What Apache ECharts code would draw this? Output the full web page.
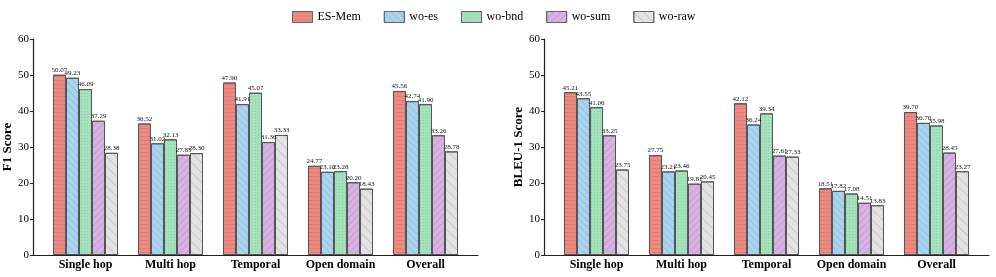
<!DOCTYPE html>
<html><head><meta charset="utf-8">
<script src="https://cdn.jsdelivr.net/npm/echarts@6/dist/echarts.min.js"></script>
<style>html,body{margin:0;padding:0;background:#fff}#c{width:996px;height:277px}</style>
</head><body><div id="c"></div>
<script>
const categories = ['Single hop', 'Multi hop', 'Temporal', 'Open domain', 'Overall'];
const seriesNames = ['ES-Mem', 'wo-es', 'wo-bnd', 'wo-sum', 'wo-raw'];
const yTicks = [0, 10, 20, 30, 40, 50, 60];
// F1 Score
const f1_esmem = [50.07, 36.52, 47.90, 24.77, 45.56];
const f1_woes  = [49.23, 31.02, 41.91, 23.10, 42.74];
const f1_wobnd = [46.09, 32.13, 45.07, 23.28, 41.90];
const f1_wosum = [37.29, 27.85, 31.36, 20.20, 33.26];
const f1_woraw = [28.38, 28.30, 33.33, 18.43, 28.78];
// BLEU-1 Score
const bl_esmem = [45.21, 27.75, 42.12, 18.51, 39.70];
const bl_woes  = [43.55, 23.21, 36.24, 17.82, 36.70];
const bl_wobnd = [41.06, 23.46, 39.34, 17.08, 35.98];
const bl_wosum = [33.25, 19.81, 27.61, 14.51, 28.45];
const bl_woraw = [23.75, 20.45, 27.33, 13.83, 23.27];

const FONT = '"Liberation Serif", "DejaVu Serif", serif';
const colors = ['#ec8a81', '#aad3f0', '#a3e2bb', '#d6b3e3', '#e3e3e3'];
const decals = [
  {symbol: 'rect', dashArrayX: [1, 0], dashArrayY: [1, 3], color: 'rgba(170,60,60,0.18)', rotation: 0},
  {symbol: 'rect', dashArrayX: [1, 0], dashArrayY: [1, 4], color: 'rgba(60,120,170,0.18)', rotation: Math.PI / 4},
  {symbol: 'circle', symbolSize: 1, dashArrayX: [[1, 2]], dashArrayY: [1, 2], color: 'rgba(40,130,70,0.25)'},
  {symbol: 'rect', dashArrayX: [1, 0], dashArrayY: [1, 4], color: 'rgba(120,60,140,0.18)', rotation: -Math.PI / 4},
  {symbol: 'rect', dashArrayX: [1, 0], dashArrayY: [1, 6], color: 'rgba(120,120,120,0.25)', rotation: Math.PI / 4}
];

const f1Data = [f1_esmem, f1_woes, f1_wobnd, f1_wosum, f1_woraw];
const blData = [bl_esmem, bl_woes, bl_wobnd, bl_wosum, bl_woraw];

function catAxis(gi) {
  return {
    type: 'category', gridIndex: gi, data: categories,
    axisLine: {show: false}, axisTick: {show: false},
    axisLabel: {interval: 0, fontFamily: FONT, fontWeight: 'bold', fontSize: 12, color: '#000', margin: 4}
  };
}
function lineXAxis(gi) {
  return {type: 'value', gridIndex: gi, min: 0, max: 1, show: true,
    axisLine: {show: true, lineStyle: {color: '#222', width: 1.2}},
    axisTick: {show: false}, axisLabel: {show: false}, splitLine: {show: false}};
}
function valAxis(gi, name) {
  return {
    type: 'value', gridIndex: gi, min: yTicks[0], max: yTicks[yTicks.length - 1], interval: 10,
    offset: 10, name: name, nameLocation: 'middle', nameGap: 19,
    nameTextStyle: {fontFamily: FONT, fontWeight: 'bold', fontSize: 13, color: '#000'},
    axisLine: {show: true, lineStyle: {color: '#222', width: 1.2}},
    axisTick: {show: true, length: 3, inside: false, lineStyle: {color: '#222'}},
    axisLabel: {fontFamily: FONT, fontSize: 11, color: '#000', margin: 4},
    splitLine: {show: false}
  };
}
function hiddenY(gi) {
  return {type: 'value', gridIndex: gi, min: 0, max: 1, show: false, splitLine: {show: false}};
}

const series = [];
[[f1Data, 0], [blData, 1]].forEach(([data, k]) => {
  data.forEach((vals, i) => {
    series.push({
      name: seriesNames[i], type: 'bar', xAxisIndex: k * 2, yAxisIndex: k * 2,
      data: vals, barGap: '0%', barCategoryGap: '23.5%',
      itemStyle: {color: colors[i], borderColor: '#555', borderWidth: 1, decal: decals[i]},
      label: {show: true, position: 'top', distance: 1, fontFamily: FONT, fontSize: 7, color: '#111',
        formatter: p => p.value.toFixed(2)},
      emphasis: {disabled: true}
    });
  });
});

const option = {
  animation: false,
  legend: {
    top: 6, left: 287, itemWidth: 20, itemHeight: 11, itemGap: 23, icon: 'rect',
    data: seriesNames,
    textStyle: {fontFamily: FONT, fontSize: 12, color: '#000'},
    itemStyle: {borderColor: '#666', borderWidth: 1}
  },
  grid: [
    {left: 43, top: 39, width: 425, height: 216},
    {left: 33, top: 39, width: 445, height: 216},
    {left: 554, top: 39, width: 425, height: 216},
    {left: 543, top: 39, width: 446, height: 216}
  ],
  xAxis: [catAxis(0), lineXAxis(1), catAxis(2), lineXAxis(3)],
  yAxis: [valAxis(0, 'F1 Score'), hiddenY(1), valAxis(2, 'BLEU-1 Score'), hiddenY(3)],
  series: series
};
const chart = echarts.init(document.getElementById('c'), null, {renderer: 'canvas'});
chart.setOption(option);
</script></body></html>
